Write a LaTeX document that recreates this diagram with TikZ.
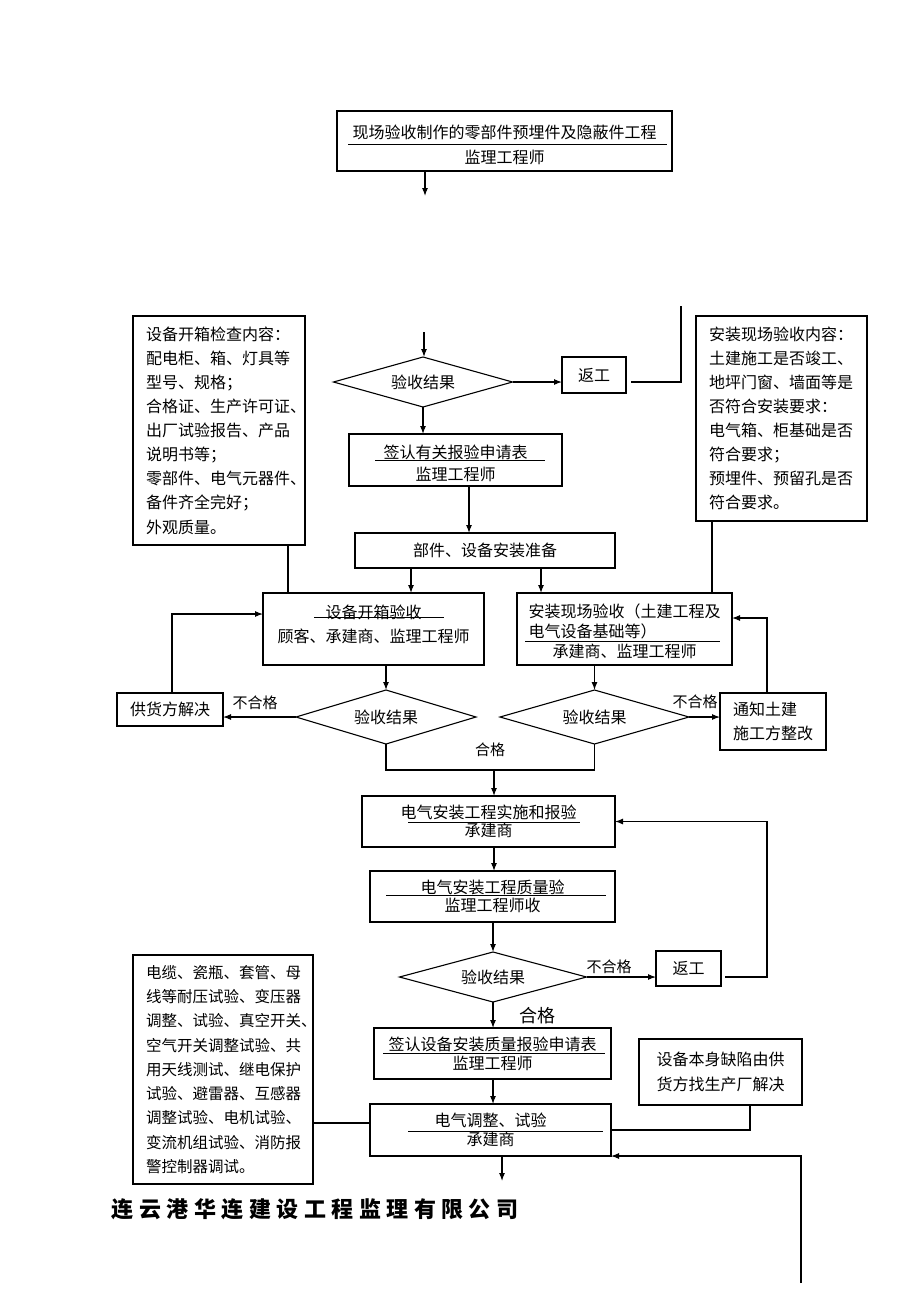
\documentclass[tikz,border=0pt]{standalone}
\usepackage{fontspec}
\setmainfont{Noto Sans CJK SC}
\usetikzlibrary{shapes.geometric,arrows.meta,calc}
\begin{document}
\begin{tikzpicture}[x=1pt,y=-1pt,
  line width=1.1pt,
  every node/.style={inner sep=0pt, outer sep=0pt},
  box/.style={draw, rectangle, align=center, font=\fontsize{16}{24}\selectfont},
  boxtext/.style={align=center, inner sep=0pt},
  txtbox/.style={draw, rectangle, align=left, inner xsep=13pt, font=\fontsize{16}{24.1}\selectfont},
  dia/.style={draw, diamond, aspect=3.5, font=\fontsize{16}{20}\selectfont},
  lab/.style={font=\fontsize{15}{18}\selectfont},
  arr/.style={-{Latex[length=8pt,width=6pt]}},
  uline/.style={line width=0.9pt},
]
\fill[white] (0,0) rectangle (920,1302);
\useasboundingbox (0,0) rectangle (920,1302);

% top
\node[box, minimum width=335pt, minimum height=60pt,
  label={[boxtext, font=\fontsize{16}{25}\selectfont, yshift=-4pt]center:{现场验收制作的零部件预埋件及隐蔽件工程\\监理工程师}}] (top) at (504.5,141) {};
\draw[uline] (348,144) -- (667,144);
\coordinate (c1) at (425,196);
\draw[arr] (top.south -| c1) -- (c1);

% first decision
\coordinate (c2) at (424,332);
\node[dia, minimum width=179pt, minimum height=50pt] (d1) at (423,382) {验收结果};
\draw[arr] (c2) -- (c2 |- d1.north);
\node[box, minimum width=64pt, minimum height=36pt] (fg1) at (594,375) {返工};
\draw[arr] (d1.east) -- (d1.east -| fg1.west);
\coordinate (c3) at (681,306);
\draw ($(fg1.east |- d1.east)+(5,0)$) -- (c3 |- d1.east) -- (c3);

\node[box, minimum width=213pt, minimum height=52pt,
  label={[boxtext, font=\fontsize{16}{22}\selectfont, yshift=-3pt]center:{签认有关报验申请表\\监理工程师}}] (qr1) at (455.5,460) {};
\draw[uline] (375,460) -- (545,460);
\draw[arr] (d1.south) -- (d1.south |- qr1.north);

\node[box, minimum width=260pt, minimum height=35pt] (zb) at (485,550.5) {部件、设备安装准备};
\draw[arr] ([xshift=13.5pt]qr1.south) -- ([xshift=13.5pt]qr1.south |- zb.north);

\node[box, minimum width=221pt, minimum height=72pt,
  label={[boxtext, font=\fontsize{16}{24}\selectfont, yshift=5pt]center:{设备开箱验收\\顾客、承建商、监理工程师}}] (kx) at (373.5,629) {};
\draw[uline] (314,617) -- (444,617);
\node[box, minimum width=215pt, minimum height=72pt,
  label={[boxtext, font=\fontsize{16}{20}\selectfont, yshift=-2pt]center:{安装现场验收（土建工程及\\\makebox[192pt][l]{电气设备基础等）}\\承建商、监理工程师}}] (az) at (624.5,629) {};
\draw[uline] (525,641) -- (720,641);
\draw[arr] ([xshift=-74pt]zb.south) -- ([xshift=-74pt]zb.south |- kx.north);
\draw[arr] ([xshift=56pt]zb.south) -- ([xshift=56pt]zb.south |- az.north);

% side text boxes
\node[txtbox, text width=146pt, minimum height=229pt] (L1) at (219,430.5) {设备开箱检查内容：\\配电柜、箱、灯具等\\型号、规格；\\合格证、生产许可证、\\出厂试验报告、产品\\说明书等；\\零部件、电气元器件、\\备件齐全完好；\\外观质量。};
\draw ([xshift=69pt]L1.south) -- ([xshift=69pt]L1.south |- kx.north);
\node[txtbox, text width=145pt, minimum height=205pt] (R1) at (781.5,418.5) {安装现场验收内容：\\土建施工是否竣工、\\地坪门窗、墙面等是\\否符合安装要求：\\电气箱、柜基础是否\\符合要求；\\预埋件、预留孔是否\\符合要求。};
\draw ([xshift=-69.5pt]R1.south) -- ([xshift=-69.5pt]R1.south |- az.north);

% second row decisions
\node[box, minimum width=106pt, minimum height=33pt] (gh) at (170,709.5) {供货方解决};
\node[dia, minimum width=180pt, minimum height=54pt] (d2) at (386,717) {验收结果};
\node[dia, minimum width=189pt, minimum height=54pt] (d3) at (594.5,717) {验收结果};
\node[box, align=left, minimum width=106pt, minimum height=57pt] (tz) at (773,721.5) {通知土建\\施工方整改};
\draw[arr] (d2.north |- kx.south) -- (d2.north);
\draw[arr] (d3.north |- az.south) -- (d3.north);
\draw[arr] (d2.west) -- (d2.west -| gh.east);
\node[lab] (n1) at (255,703) {不合格};
\draw[arr] (d3.east) -- (d3.east -| tz.west);
\node[lab] (n2) at (695,702) {不合格};
\draw[arr] ([xshift=2pt]gh.north) |- ([yshift=15pt]kx.west);
\draw[arr] ([xshift=-6pt]tz.north) |- ([yshift=11pt]az.east);
\coordinate (mj) at (494,770);
\draw (d2.south) -- (d2.south |- mj) -- (d3.south |- mj) -- (d3.south);
\node[lab] (h1) at (490,750) {合格};

% installation
\node[box, minimum width=253pt, minimum height=51pt, font=\fontsize{16}{18}\selectfont] (ss) at (488.5,821.5) {电气安装工程实施和报验\\承建商};
\draw[uline] (408,822) -- (580,822);
\draw[arr] (mj) -- (mj |- ss.north);
\node[box, minimum width=245pt, minimum height=51pt, font=\fontsize{16}{18}\selectfont] (zl) at (492.5,896.5) {电气安装工程质量验\\监理工程师收};
\draw[uline] (386,895) -- (606,895);
\draw[arr] (mj |- ss.south) -- (mj |- zl.north);
\node[dia, minimum width=187pt, minimum height=50pt] (d4) at (493,977) {验收结果};
\draw[arr] (d4.north |- zl.south) -- (d4.north);
\node[box, minimum width=65pt, minimum height=35pt] (fg2) at (688.5,968.5) {返工};
\draw[arr] (d4.east) -- (d4.east -| fg2.west);
\node[lab] (n3) at (609,967) {不合格};
\coordinate (r2) at (767,977);
\draw[arr] ($(fg2.east |- d4.east)+(4,0)$) -- (r2) |- (ss.east);
\node[font=\fontsize{18}{20}\selectfont] (h2) at (537,1016) {合格};

\node[box, minimum width=237pt, minimum height=51pt, font=\fontsize{16}{19}\selectfont] (qs) at (492.5,1053.5) {签认设备安装质量报验申请表\\监理工程师};
\draw[uline] (383,1053) -- (605,1053);
\draw[arr] (d4.south) -- (d4.south |- qs.north);
\node[box, minimum width=241pt, minimum height=52pt, font=\fontsize{16}{19}\selectfont] (ts) at (490.5,1130) {电气调整、试验\\承建商};
\draw[uline] (408,1131) -- (603,1131);
\draw[arr] (d4.south |- qs.south) -- (d4.south |- ts.north);

\node[txtbox, text width=154pt, minimum height=229pt, font=\fontsize{15.5}{24.25}\selectfont] (L2) at (223,1069.5) {电缆、瓷瓶、套管、母\\线等耐压试验、变压器\\调整、试验、真空开关、\\空气开关调整试验、共\\用天线测试、继电保护\\试验、避雷器、互感器\\调整试验、电机试验、\\变流机组试验、消防报\\警控制器调试。};
\draw ([yshift=7pt]ts.west -| L2.east) -- ([yshift=7pt]ts.west);
\node[box, minimum width=163pt, minimum height=66pt, font=\fontsize{16}{25}\selectfont] (R2) at (720.5,1072) {设备本身缺陷由供\\货方找生产厂解决};
\draw ([xshift=29.5pt]R2.south) |- (ts.east);
\coordinate (b1) at (801,1283);
\draw[arr] (b1) |- (ts.south east);
\coordinate (b2) at (502,1181);
\draw[arr] (b2 |- ts.south) -- (b2);

\node[font=\fontsize{22}{26}\selectfont\bfseries\addfontfeature{LetterSpace=25}] (co) at (315,1209) {连云港华连建设工程监理有限公司};
\end{tikzpicture}
\end{document}
